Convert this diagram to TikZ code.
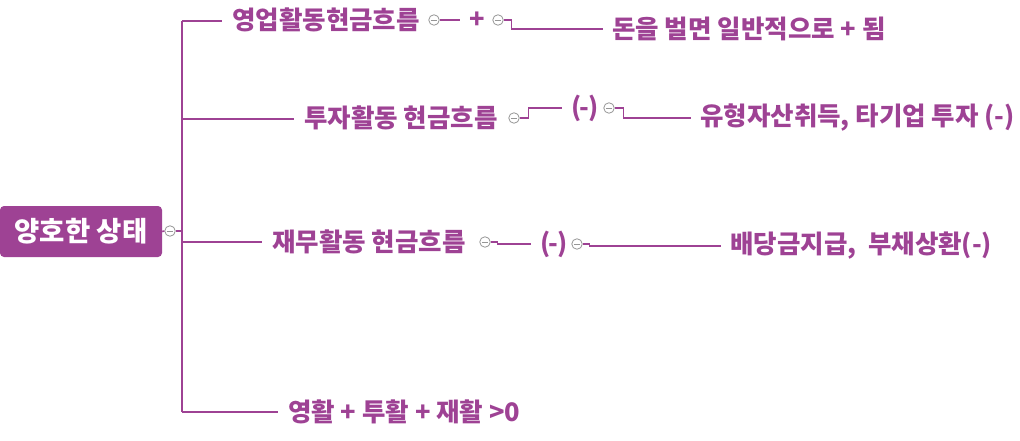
\documentclass[tikz,border=0pt]{standalone}
\usepackage{fontspec}
\setmainfont{Noto Sans CJK KR}
\usetikzlibrary{positioning}
\definecolor{mindpurple}{RGB}{158,66,148}
\definecolor{foldgray}{RGB}{150,150,150}

\newcommand{\negpar}{(\kern-1.5pt-\kern-1.5pt)}

\tikzset{
  rootbox/.style={fill=mindpurple, rounded corners=4pt, minimum width=162pt,
    minimum height=51pt, text=white, font=\fontsize{27.5}{30}\selectfont\bfseries},
  topic/.style={anchor=west, inner xsep=10pt, inner ysep=0pt, text=mindpurple,
    font=\fontsize{25.5}{28}\selectfont\bfseries},
  sub/.style={topic, inner xsep=9pt},
  fold/.style={circle, draw=foldgray, fill=white, minimum size=10.5pt, inner sep=0pt,
    line width=0.8pt,
    path picture={\draw[foldgray, line width=0.8pt]
      ([xshift=2pt]path picture bounding box.west) --
      ([xshift=-2pt]path picture bounding box.east);}},
  branch/.style={draw=mindpurple, line width=1.6pt}
}

\begin{document}
\begin{tikzpicture}[x=1pt, y=-1pt]
  \useasboundingbox (0,0) rectangle (1020,441);

  % Raiz
  \node[rootbox] (root) at (81,231.5) {양호한 상태};
  \node[fold] (c0) at (170,231) {};
  \coordinate (t) at (182,231);

  % Ramas principales
  \node[topic] (b1) at (222,20) {영업활동현금흐름};
  \node[topic] (b2) at (294,118) {투자활동 현금흐름};
  \node[topic] (b3) at (262,242) {재무활동 현금흐름};
  \node[topic] (b4) at (278,412) {영활 + 투활 + 재활 >0};

  \draw[branch] (root.east) -- (c0.west);
  \draw[branch] (c0.east) -- (t);
  \draw[branch] (t |- 0,21) -- (t |- b4.west);
  \draw[branch] (t |- 0,21) -- (b1.west |- 0,21);
  \draw[branch] (t |- 0,119) -- (b2.west |- 0,119);
  \draw[branch] (t |- b3.west) -- (b3.west);
  \draw[branch] (t |- b4.west) -- (b4.west);

  % Rama 1
  \node[fold] (c1) at (434,20) {};
  \node[sub] (m1) at (460,20) {+};
  \node[fold] (c1b) at (498,20) {};
  \node[sub] (d1) at (603,29) {돈을 벌면 일반적으로 + 됨};
  \draw[branch] (c1.east) -- (m1.west);
  \draw[branch] (c1b.east) -- ++(8,0) |- (d1.west);

  % Rama 2
  \node[fold] (c2) at (514,118) {};
  \node[sub] (m2) at (562,108) {\negpar};
  \node[fold] (c2b) at (609,108) {};
  \node[sub] (d2) at (691,118) {유형자산취득, 타기업 투자 (-)};
  \draw[branch] (c2.east) -- ++(9,0) |- (m2.west);
  \draw[branch] (c2b.east) -- ++(9,0) |- (d2.west);

  % Rama 3
  \node[fold] (c3) at (485,242) {};
  \node[sub] (m3) at (531,244) {\negpar};
  \node[fold] (c3b) at (577,244) {};
  \node[sub] (d3) at (721,246) {배당금지급,\ \ 부채상환(-)};
  \draw[branch] (c3.east) -- ++(7,0) |- (m3.west);
  \draw[branch] (c3b.east) -- ++(7,0) |- (d3.west);
\end{tikzpicture}
\end{document}
